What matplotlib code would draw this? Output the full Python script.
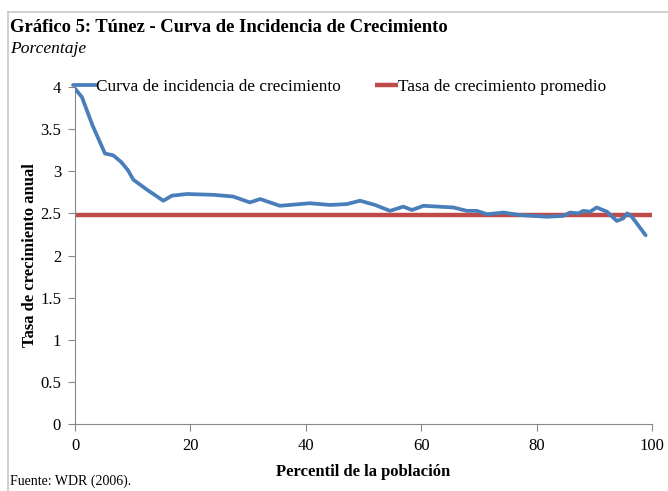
import matplotlib
matplotlib.use("Agg")
import matplotlib.pyplot as plt
from matplotlib.lines import Line2D

# Percentil vs tasa de crecimiento anual
percentil = [0, 1.2, 3.0, 5.2, 6.6, 8.0, 9.2, 10.1, 12.5, 15.3, 16.8, 19.4,
             24.0, 27.4, 30.3, 32.1, 35.5, 40.7, 44.2, 47.1, 49.4, 52.0, 54.6,
             56.9, 58.4, 60.4, 65.6, 67.9, 69.6, 71.4, 74.3, 77.1, 81.8, 84.6,
             85.8, 87.2, 88.1, 89.3, 90.4, 92.2, 93.9, 95.0, 95.7, 96.5, 98.9]
tasa = [3.98, 3.88, 3.55, 3.21, 3.19, 3.11, 3.01, 2.90, 2.78, 2.65, 2.71, 2.73,
        2.72, 2.70, 2.63, 2.67, 2.59, 2.62, 2.60, 2.61, 2.65, 2.60, 2.53,
        2.58, 2.54, 2.59, 2.57, 2.53, 2.53, 2.49, 2.51, 2.48, 2.46, 2.47,
        2.51, 2.50, 2.53, 2.52, 2.57, 2.52, 2.41, 2.44, 2.50, 2.46, 2.24]
promedio_x = [0, 100]
promedio_y = [2.48, 2.48]

xticks = [0, 20, 40, 60, 80, 100]
yticks = [0, 0.5, 1, 1.5, 2, 2.5, 3, 3.5, 4]
ylabels = ["0", "0.5", "1", "1.5", "2", "2.5", "3", "3.5", "4"]

azul = "#4a7ebb"
rojo = "#be4b48"
gris = "#888888"

plt.rcParams["font.family"] = ["Liberation Serif", "DejaVu Serif"]

fig = plt.figure(figsize=(6.68, 4.91), dpi=100)

# frame around the figure (top and left only, like the source)
fig.add_artist(Line2D([8 / 668, 1], [1 - 12 / 491, 1 - 12 / 491], color="#c8c8c8", lw=1.2))
fig.add_artist(Line2D([8 / 668, 8 / 668], [0, 1 - 12 / 491], color="#c8c8c8", lw=1.2))

ax = fig.add_axes([75 / 668, 67 / 491, 577 / 668, 337 / 491])
ax.plot(promedio_x, promedio_y, color=rojo, lw=3.2, solid_capstyle="butt",
        label="Tasa de crecimiento promedio", zorder=2)
ax.plot(percentil, tasa, color=azul, lw=2.7, solid_joinstyle="round",
        solid_capstyle="round", label="Curva de incidencia de crecimiento", zorder=3)

ax.set_xlim(0, 100)
ax.set_ylim(0, 4)
ax.set_xticks(xticks)
ax.set_yticks(yticks)
ax.set_yticklabels(ylabels)
ax.tick_params(axis="both", labelsize=12, color=gris, length=5, width=0.8, pad=5)
for s in ["top", "right"]:
    ax.spines[s].set_visible(False)
for s in ["left", "bottom"]:
    ax.spines[s].set_color(gris)
    ax.spines[s].set_linewidth(0.8)

ax.set_xlabel("Percentil de la población", fontsize=12, fontweight="bold", labelpad=7)
ax.set_ylabel("Tasa de crecimiento anual", fontsize=12, fontweight="bold", labelpad=1.5)

handles, labels = ax.get_legend_handles_labels()
ax.legend(handles[::-1], labels[::-1], ncol=2, loc="center left",
          bbox_to_anchor=(-0.004, 1.0), frameon=False, fontsize=12.4,
          borderpad=0, borderaxespad=0, handlelength=1.35, handletextpad=0.0,
          columnspacing=2.0)

fig.text(10 / 668, 1 - 27 / 491, "Gráfico 5: Túnez - Curva de Incidencia de Crecimiento",
         fontsize=13.4, fontweight="bold", va="center", ha="left")
fig.text(10 / 668, 1 - 49 / 491, "Porcentaje", fontsize=12.6, style="italic",
         va="center", ha="left")
fig.text(10 / 668, 1 - 481 / 491, "Fuente: WDR (2006).", fontsize=10,
         va="center", ha="left")

fig.savefig("out.png", dpi=100)
